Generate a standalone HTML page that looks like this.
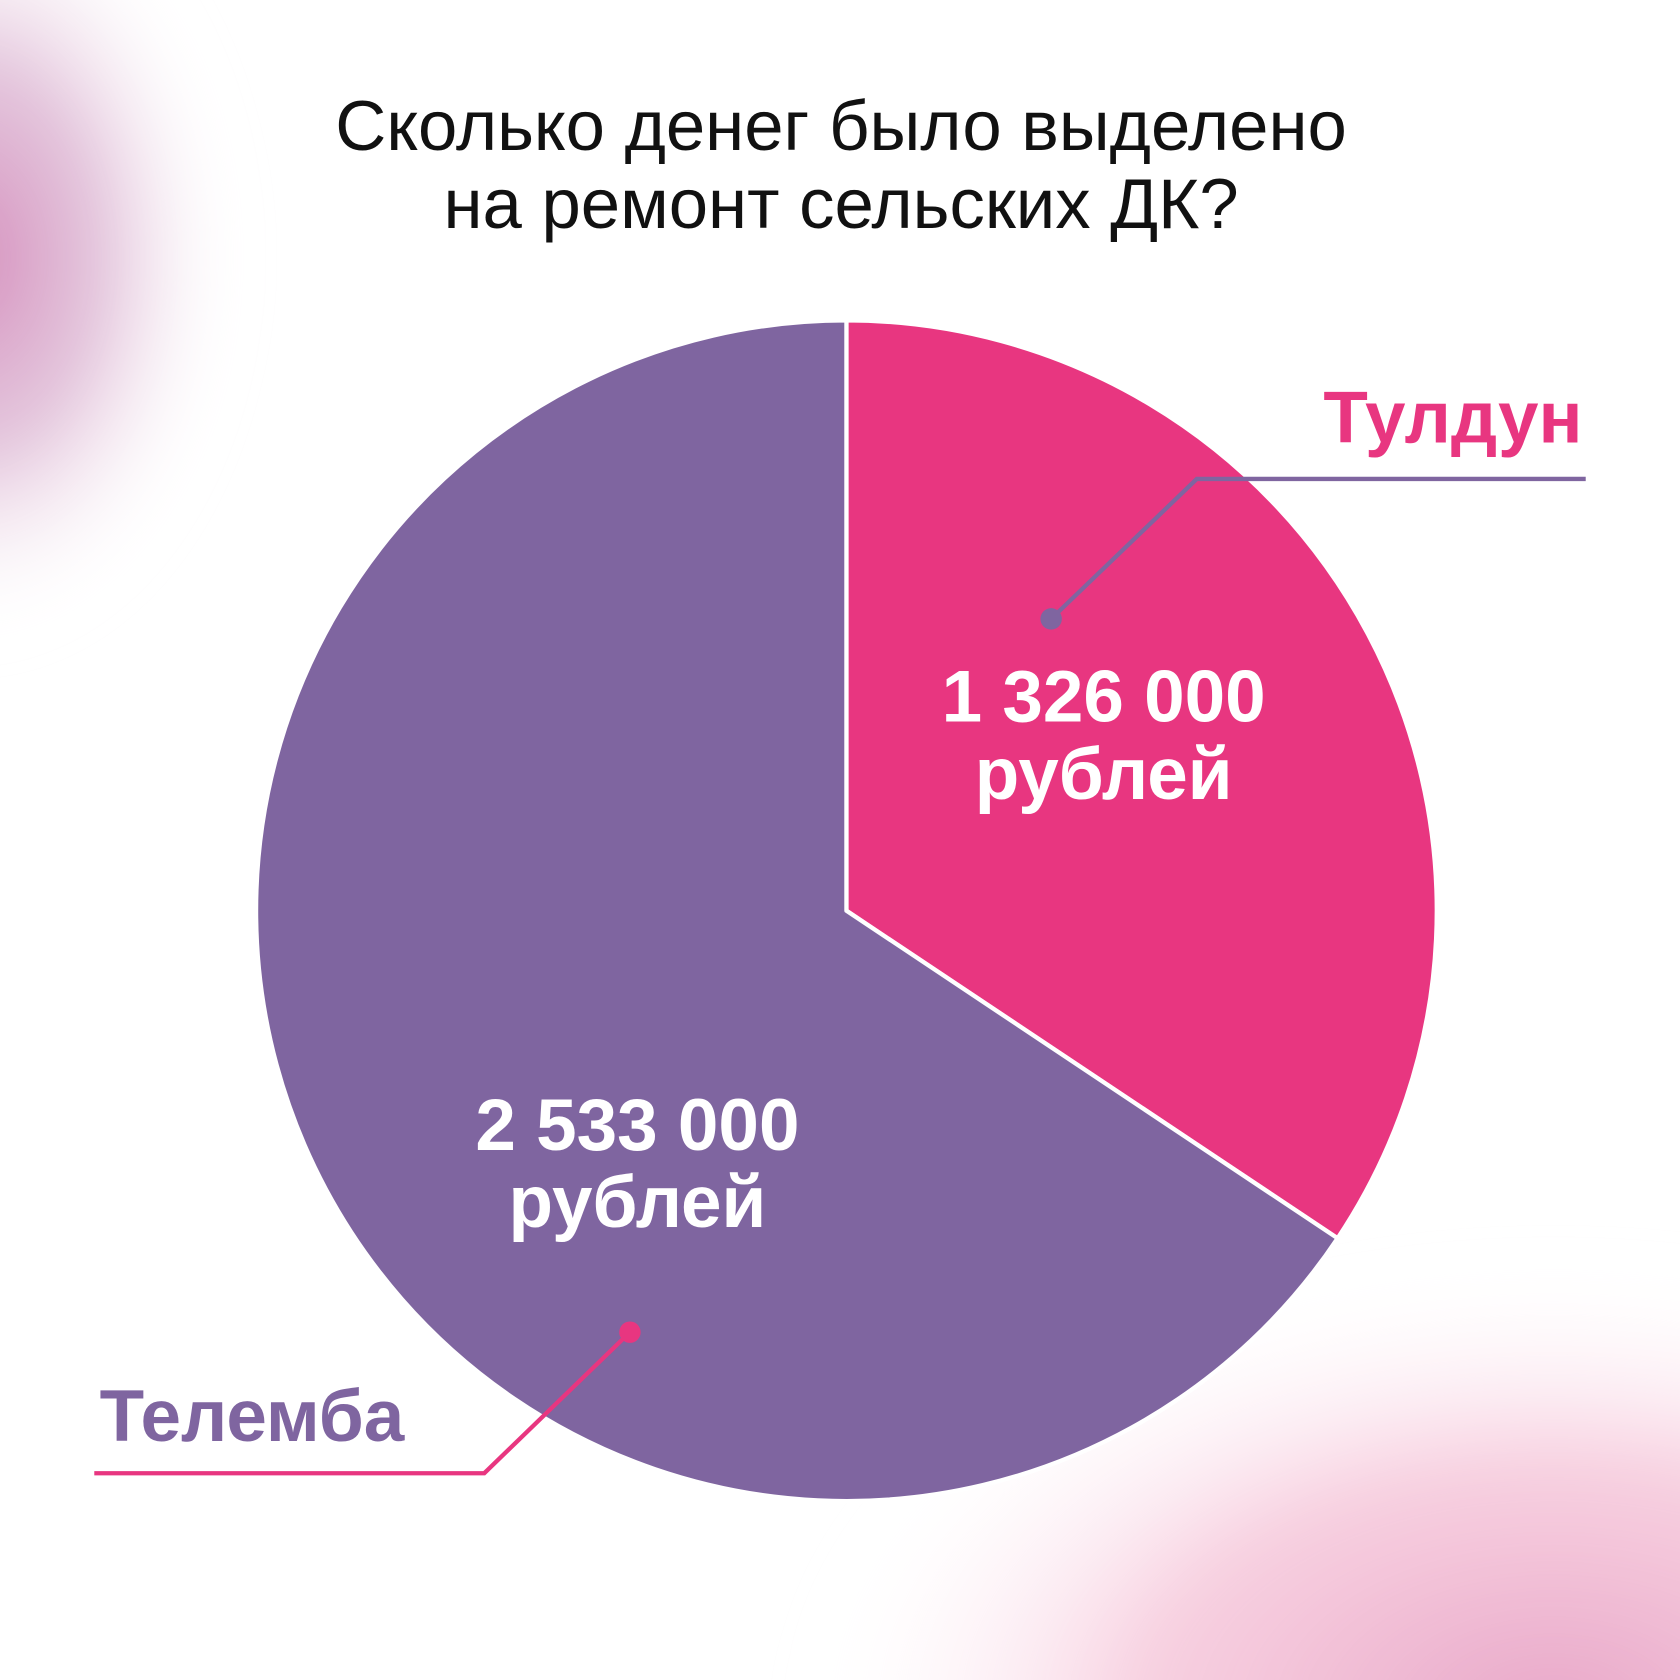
<!DOCTYPE html>
<html><head><meta charset="utf-8"><style>
html,body{margin:0;padding:0;background:#fff;overflow:hidden;width:1680px;height:1680px;}
svg{display:block;overflow:hidden;}
</style></head><body>
<svg width="1680" height="1680" viewBox="0 0 1568 1568" xmlns="http://www.w3.org/2000/svg" font-family="'Liberation Sans', 'DejaVu Sans', sans-serif">
<defs>
<radialGradient id="gtl" cx="0.5" cy="0.5" r="0.5">
<stop offset="0" stop-color="#d487b8" stop-opacity="0.95"/>
<stop offset="0.5" stop-color="#d2a0c6" stop-opacity="0.6"/>
<stop offset="1" stop-color="#fff" stop-opacity="0"/>
</radialGradient>
<radialGradient id="gbr" cx="0.5" cy="0.5" r="0.5">
<stop offset="0" stop-color="#e8a6c8" stop-opacity="1"/>
<stop offset="0.55" stop-color="#f4bcd3" stop-opacity="0.7"/>
<stop offset="1" stop-color="#fff" stop-opacity="0"/>
</radialGradient>
<filter id="blur" x="-50%" y="-50%" width="200%" height="200%"><feGaussianBlur stdDeviation="25"/></filter>
<clipPath id="frame"><rect width="1568" height="1568"/></clipPath>
</defs>
<rect width="1568" height="1568" fill="#fff"/>
<g clip-path="url(#frame)">
<ellipse cx="-30" cy="240" rx="250" ry="360" fill="url(#gtl)" filter="url(#blur)"/>
<ellipse cx="1450" cy="1600" rx="700" ry="420" fill="url(#gbr)" filter="url(#blur)"/>
</g>
<text x="785" y="140" text-anchor="middle" font-size="66" fill="#111">Сколько денег было выделено</text>
<text x="785" y="213" text-anchor="middle" font-size="66" fill="#111">на ремонт сельских ДК?</text>
<g id="pie"></g>
<g id="labels"></g>
</svg>
<script>
const categories = ["Тулдун", "Телемба"];
const values = [1326000, 2533000];
const valueLabels = ["1 326 000", "2 533 000"];
const colors = ["#e83680", "#7f65a0"];
const cx = 790, cy = 850, r = 551;
const NS = "http://www.w3.org/2000/svg";
const total = values.reduce((a,b)=>a+b,0);
function pt(frac, rad){ const a = frac*2*Math.PI; return [cx + rad*Math.sin(a), cy - rad*Math.cos(a)]; }
const pie = document.getElementById('pie');
let acc = 0;
const mids = [];
values.forEach((v,i)=>{
  const f0 = acc/total, f1 = (acc+v)/total; acc += v;
  mids.push((f0+f1)/2);
  const [x0,y0] = pt(f0,r), [x1,y1] = pt(f1,r);
  const large = (f1-f0) > 0.5 ? 1 : 0;
  const p = document.createElementNS(NS,'path');
  p.setAttribute('d', `M${cx},${cy} L${x0},${y0} A${r},${r} 0 ${large} 1 ${x1},${y1} Z`);
  p.setAttribute('fill', colors[i]);
  p.setAttribute('stroke', '#fff');
  p.setAttribute('stroke-width', '4');
  p.setAttribute('stroke-linejoin', 'round');
  
  
  pie.appendChild(p);
});
const lab = document.getElementById('labels');
function txt(x,y,s,size,fill,anchor,name){
  const t = document.createElementNS(NS,'text');
  t.setAttribute('x',x); t.setAttribute('y',y);
  t.setAttribute('font-size',size); t.setAttribute('font-weight','bold');
  t.setAttribute('fill',fill); t.setAttribute('text-anchor',anchor);
  t.textContent = s;
  
  
  lab.appendChild(t);
}
const labelOff = [[2,-49],[43,96]];
const dotOff = [[-47,-145],[36,266]];
const leaderCfg = [
  {elbow:[1117,447], end:[1480,447], color:colors[1], tx:1477, ty:413, anchor:'end', tcolor:colors[0]},
  {elbow:[452,1375], end:[88,1375], color:colors[0], tx:93, ty:1345, anchor:'start', tcolor:colors[1]}
];
mids.forEach((m,i)=>{
  const [ax,ay] = pt(m, 270);
  const x = ax + labelOff[i][0], y = ay + labelOff[i][1];
  txt(x, y, valueLabels[i], 68, '#fff', 'middle', 'value-label-' + i);
  txt(x, y + 72, 'рублей', 68, '#fff', 'middle', 'value-unit-' + i);
  const L = leaderCfg[i];
  const d = [ax + dotOff[i][0], ay + dotOff[i][1]];
  const pl = document.createElementNS(NS,'polyline');
  pl.setAttribute('points', `${d[0]},${d[1]} ${L.elbow[0]},${L.elbow[1]} ${L.end[0]},${L.end[1]}`);
  pl.setAttribute('fill','none'); pl.setAttribute('stroke',L.color); pl.setAttribute('stroke-width','4');
  
  
  lab.appendChild(pl);
  const c = document.createElementNS(NS,'circle');
  c.setAttribute('cx',d[0]); c.setAttribute('cy',d[1]); c.setAttribute('r','10'); c.setAttribute('fill',L.color);
  
  
  lab.appendChild(c);
  txt(L.tx, L.ty, categories[i], 68, L.tcolor, L.anchor, 'category-label-' + i);
});
</script>
</body></html>
